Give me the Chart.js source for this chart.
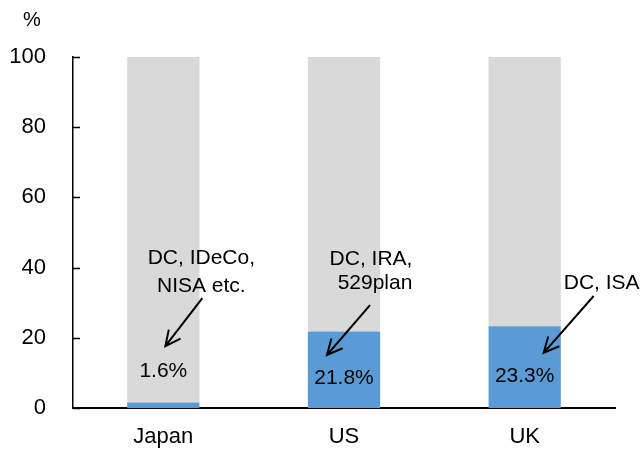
<!DOCTYPE html>
<html>
<head>
<meta charset="utf-8">
<script src="https://cdn.jsdelivr.net/npm/chart.js@4/dist/chart.umd.min.js"></script>
<style>
  html, body { margin: 0; padding: 0; background: #fff; }
  #wrap { width: 640px; height: 450px; position: relative; }
</style>
</head>
<body>
<div id="wrap"><canvas id="c" width="640" height="450"></canvas></div>
<script>
// Share of household financial assets held in tax-advantaged accounts
const categories = ['Japan', 'US', 'UK'];
const accountShare = [1.6, 21.8, 23.3];      // blue segment, %
const otherShare = [98.4, 78.2, 76.7];       // grey remainder, %
const yTicks = [0, 20, 40, 60, 80, 100];

// Call-out texts for each country
const calloutLines = [
  ['DC, IDeCo,', 'NISA etc.'],
  ['DC, IRA,', '529plan'],
  ['DC, ISA']
];

const FONT = '"Liberation Sans", Arial, sans-serif';

// Annotation placement: x offsets in px from the bar centre, y in axis units
const calloutLayout = [
  { lines: [{dx: 38, y: 42.7}, {dx: 38, y: 34.6}], arrow: {dx0: 39, y0: 31.3, dx1: 2, y1: 17.6}, valueY: 10.5 },
  { lines: [{dx: 27, y: 42.4}, {dx: 31, y: 35.6}], arrow: {dx0: 26, y0: 29.3, dx1: -17, y1: 15.1}, valueY: 8.6 },
  { lines: [{dx: 77, y: 35.6}],                   arrow: {dx0: 69, y0: 31.9, dx1: 19, y1: 15.7}, valueY: 9.1 }
];

function drawArrow(ctx, x0, y0, x1, y1) {
  const ang = Math.atan2(y1 - y0, x1 - x0);
  const head = 17, spread = 0.45;
  ctx.beginPath();
  ctx.moveTo(x0, y0);
  ctx.lineTo(x1, y1);
  ctx.moveTo(x1 - head * Math.cos(ang - spread), y1 - head * Math.sin(ang - spread));
  ctx.lineTo(x1, y1);
  ctx.lineTo(x1 - head * Math.cos(ang + spread), y1 - head * Math.sin(ang + spread));
  ctx.stroke();
}

const annotations = {
  id: 'annotations',
  afterDatasetsDraw(chart) {
    const ctx = chart.ctx;
    const xs = chart.scales.x, ys = chart.scales.y;
    const area = chart.chartArea;
    ctx.save();

    // inward tick marks on the value axis
    ctx.strokeStyle = '#000';
    ctx.lineWidth = 1.5;
    yTicks.forEach(v => {
      const py = Math.round(ys.getPixelForValue(v)) + 0.5;
      ctx.beginPath();
      ctx.moveTo(area.left, py);
      ctx.lineTo(area.left + 7, py);
      ctx.stroke();
    });

    // unit label
    ctx.fillStyle = '#000';
    ctx.font = '20px ' + FONT;
    ctx.textAlign = 'center';
    ctx.textBaseline = 'middle';
    ctx.fillText('%', 32, 20);

    ctx.font = '21px ' + FONT;
    ctx.lineWidth = 2;
    categories.forEach((cat, i) => {
      const cx = xs.getPixelForValue(i);
      const lay = calloutLayout[i];
      calloutLines[i].forEach((txt, j) => {
        ctx.fillText(txt, cx + lay.lines[j].dx, ys.getPixelForValue(lay.lines[j].y));
      });
      const a = lay.arrow;
      drawArrow(ctx, cx + a.dx0, ys.getPixelForValue(a.y0), cx + a.dx1, ys.getPixelForValue(a.y1));
      ctx.fillText(accountShare[i].toFixed(1) + '%', cx, ys.getPixelForValue(lay.valueY));
    });
    ctx.restore();
  }
};

new Chart(document.getElementById('c'), {
  type: 'bar',
  data: {
    labels: categories,
    datasets: [
      { data: accountShare, backgroundColor: '#5B9BD5', barPercentage: 0.4, categoryPercentage: 1.0 },
      { data: otherShare, backgroundColor: '#D9D9D9', barPercentage: 0.4, categoryPercentage: 1.0 }
    ]
  },
  options: {
    responsive: false,
    animation: false,
    layout: { padding: { top: 57, right: 25, bottom: 0, left: 0 } },
    plugins: { legend: { display: false }, tooltip: { enabled: false } },
    scales: {
      x: {
        stacked: true,
        afterFit(scale) { scale.height = 42; },
        grid: { display: false, drawTicks: false },
        border: { display: true, color: '#000', width: 2 },
        ticks: { color: '#000', padding: 16, font: { family: FONT, size: 22 } }
      },
      y: {
        stacked: true,
        min: 0, max: 100,
        afterBuildTicks(scale) { scale.ticks = yTicks.map(v => ({ value: v })); },
        afterFit(scale) { scale.width = 73; },
        grid: { display: false, drawTicks: false },
        border: { display: true, color: '#000', width: 1.5 },
        ticks: { color: '#000', padding: 27, font: { family: FONT, size: 22 } }
      }
    }
  },
  plugins: [annotations]
});
</script>
</body>
</html>
